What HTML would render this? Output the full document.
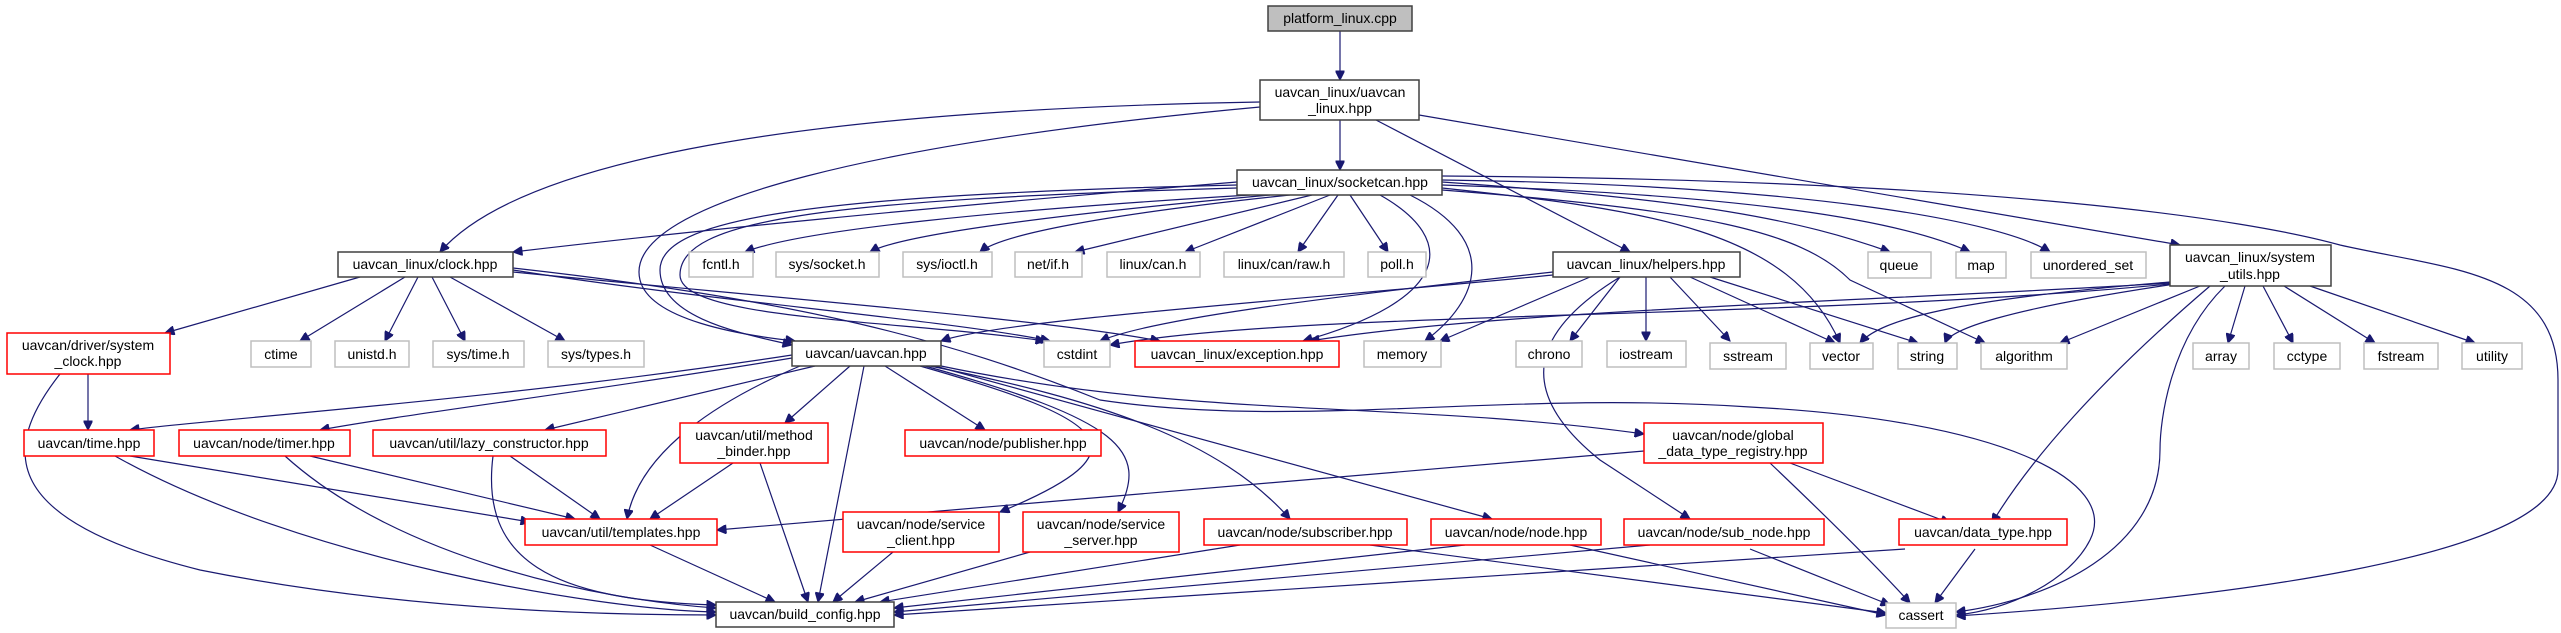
<!DOCTYPE html>
<html><head><meta charset="utf-8"><style>
html,body{margin:0;padding:0;background:#fff;}
svg{display:block;}
text{font-family:"Liberation Sans",sans-serif;font-size:14px;fill:#000;text-anchor:middle;}
.k{fill:#fff;stroke:#404040;stroke-width:1.5;}
.r{fill:#fff;stroke:#ff0000;stroke-width:1.5;}
.g{fill:#fff;stroke:#bfbfbf;stroke-width:1.5;}
path{fill:none;stroke:#191970;stroke-width:1.2;marker-end:url(#a);}
</style></head><body>
<svg width="2561" height="633" viewBox="0 0 2561 633" xmlns="http://www.w3.org/2000/svg">
<defs><marker id="a" viewBox="0 0 10 10" refX="10" refY="5" markerWidth="11" markerHeight="9" markerUnits="userSpaceOnUse" orient="auto"><path d="M0 0 L10 5 L0 10 z" style="fill:#191970;stroke:#191970;marker-end:none"/></marker></defs>
<g>
<path d="M1340 31 L1340 80"/>
<path d="M1340 120 L1340 170"/>
<path d="M1260 102 C800 110 520 160 440 252"/>
<path d="M1260 107 C900 140 620 200 640 280 C650 320 740 335 795 341"/>
<path d="M1376 120 L1630 252"/>
<path d="M1419 115 L2180 245"/>
<path d="M1237 182 C900 210 700 230 513 252"/>
<path d="M1250 195 C1000 210 800 230 745 252"/>
<path d="M1270 195 C1050 215 900 235 870 252"/>
<path d="M1290 195 C1100 215 1000 235 980 252"/>
<path d="M1312 195 L1075 252"/>
<path d="M1330 195 L1185 252"/>
<path d="M1338 195 L1298 252"/>
<path d="M1350 195 L1388 252"/>
<path d="M1380 195 C1460 240 1450 300 1303 341"/>
<path d="M1410 195 C1500 240 1480 300 1425 341"/>
<path d="M1237 185 C800 195 660 220 660 270 C660 320 750 335 792 345"/>
<path d="M1237 188 C820 200 680 220 680 275 C680 320 900 320 1045 341"/>
<path d="M513 270 C700 300 950 320 1050 341"/>
<path d="M513 272 C800 300 1050 320 1160 341"/>
<path d="M513 268 C800 300 950 340 1100 400 C1300 430 1500 390 1750 407 C2000 420 2120 480 2090 540 C2070 580 2010 610 1956 615"/>
<path d="M1442 182 C1700 200 1800 220 1890 252"/>
<path d="M1442 185 C1750 195 1900 220 1970 252"/>
<path d="M1442 180 C1800 185 2000 220 2050 252"/>
<path d="M1442 188 C1650 210 1790 230 1840 343"/>
<path d="M1442 190 C1700 210 1800 230 1850 280 L1985 343"/>
<path d="M1442 176 C2000 180 2250 220 2340 245 C2450 270 2558 270 2558 380 L2558 470 C2558 560 2200 600 1956 616"/>
<path d="M360 277 L165 333"/>
<path d="M405 277 L300 341"/>
<path d="M418 277 L385 341"/>
<path d="M432 277 L465 341"/>
<path d="M450 277 L565 341"/>
<path d="M1553 275 C1300 300 1000 320 941 341"/>
<path d="M1553 272 C1300 300 1150 320 1100 341"/>
<path d="M1590 277 L1440 341"/>
<path d="M1620 277 L1570 341"/>
<path d="M1646 277 L1646 341"/>
<path d="M1670 277 L1730 341"/>
<path d="M1690 277 L1835 343"/>
<path d="M1710 277 L1918 343"/>
<path d="M1620 277 C1550 320 1500 380 1600 460 L1690 519"/>
<path d="M2170 283 C1900 300 1500 310 1310 341"/>
<path d="M2170 282 C1950 300 1880 320 1860 343"/>
<path d="M2175 284 C2000 310 1950 330 1945 343"/>
<path d="M2200 286 L2060 343"/>
<path d="M2245 286 L2228 343"/>
<path d="M2263 286 L2293 343"/>
<path d="M2284 286 L2375 343"/>
<path d="M2310 286 L2475 343"/>
<path d="M2210 286 C2100 380 2030 460 1992 523"/>
<path d="M2225 286 C2170 340 2160 420 2160 450 C2160 550 2050 600 1956 612"/>
<path d="M2170 284 C1800 320 1300 310 1110 345"/>
<path d="M88 374 L88 430"/>
<path d="M60 374 C0 450 0 520 200 570 C400 610 600 615 716 615"/>
<path d="M792 355 C500 400 200 420 130 430"/>
<path d="M792 358 C600 390 400 415 320 430"/>
<path d="M815 366 L545 430"/>
<path d="M800 366 C720 400 640 450 627 519"/>
<path d="M850 366 L785 423"/>
<path d="M864 366 L818 602"/>
<path d="M885 366 L985 430"/>
<path d="M920 366 C1110 420 1150 450 1000 512"/>
<path d="M925 366 C1120 420 1150 450 1118 512"/>
<path d="M930 366 C1100 400 1220 440 1290 519"/>
<path d="M935 366 L1492 519"/>
<path d="M941 366 C1200 420 1400 400 1644 434"/>
<path d="M130 456 L530 522"/>
<path d="M115 456 C300 560 600 610 716 612"/>
<path d="M310 456 L575 519"/>
<path d="M285 456 C400 560 600 600 716 608"/>
<path d="M510 456 L600 519"/>
<path d="M493 456 C480 560 550 600 716 605"/>
<path d="M733 463 L650 519"/>
<path d="M760 463 L808 602"/>
<path d="M650 545 L775 602"/>
<path d="M1644 451 L717 530"/>
<path d="M1790 463 L1950 523"/>
<path d="M1770 463 C1830 520 1880 570 1910 603"/>
<path d="M893 552 L833 602"/>
<path d="M1030 552 L855 602"/>
<path d="M1240 545 L880 602"/>
<path d="M1370 545 L1886 613"/>
<path d="M1465 545 L894 608"/>
<path d="M1570 545 L1886 615"/>
<path d="M1650 545 L894 612"/>
<path d="M1750 549 L1890 605"/>
<path d="M1905 549 L894 615"/>
<path d="M1975 549 L1935 603"/>
</g>
<g>
<rect x="1268" y="6" width="144" height="25" style="fill:#bfbfbf;stroke:#404040;stroke-width:1.5"/><text x="1340" y="23">platform_linux.cpp</text>
<rect class="k" x="1260" y="80" width="159" height="40"/><text x="1340" y="97">uavcan_linux/uavcan</text><text x="1340" y="113">_linux.hpp</text>
<rect class="k" x="1237" y="170" width="205" height="25"/><text x="1340" y="187">uavcan_linux/socketcan.hpp</text>
<rect class="k" x="338" y="252" width="175" height="25"/><text x="425" y="269">uavcan_linux/clock.hpp</text>
<rect class="g" x="689" y="252" width="64" height="25"/><text x="721" y="269">fcntl.h</text>
<rect class="g" x="776" y="252" width="103" height="25"/><text x="827" y="269">sys/socket.h</text>
<rect class="g" x="903" y="252" width="89" height="25"/><text x="947" y="269">sys/ioctl.h</text>
<rect class="g" x="1015" y="252" width="67" height="25"/><text x="1048" y="269">net/if.h</text>
<rect class="g" x="1107" y="252" width="93" height="25"/><text x="1153" y="269">linux/can.h</text>
<rect class="g" x="1224" y="252" width="120" height="25"/><text x="1284" y="269">linux/can/raw.h</text>
<rect class="g" x="1368" y="252" width="58" height="25"/><text x="1397" y="269">poll.h</text>
<rect class="k" x="1553" y="252" width="187" height="25"/><text x="1646" y="269">uavcan_linux/helpers.hpp</text>
<rect class="g" x="1868" y="252" width="63" height="26"/><text x="1899" y="270">queue</text>
<rect class="g" x="1956" y="252" width="50" height="26"/><text x="1981" y="270">map</text>
<rect class="g" x="2031" y="252" width="115" height="26"/><text x="2088" y="270">unordered_set</text>
<rect class="k" x="2170" y="245" width="161" height="41"/><text x="2250" y="262">uavcan_linux/system</text><text x="2250" y="279">_utils.hpp</text>
<rect class="r" x="7" y="333" width="163" height="41"/><text x="88" y="350">uavcan/driver/system</text><text x="88" y="366">_clock.hpp</text>
<rect class="g" x="251" y="341" width="60" height="26"/><text x="281" y="359">ctime</text>
<rect class="g" x="335" y="341" width="74" height="26"/><text x="372" y="359">unistd.h</text>
<rect class="g" x="433" y="341" width="91" height="26"/><text x="478" y="359">sys/time.h</text>
<rect class="g" x="548" y="341" width="96" height="26"/><text x="596" y="359">sys/types.h</text>
<rect class="k" x="792" y="341" width="149" height="25"/><text x="866" y="358">uavcan/uavcan.hpp</text>
<rect class="g" x="1044" y="341" width="66" height="26"/><text x="1077" y="359">cstdint</text>
<rect class="r" x="1135" y="341" width="204" height="26"/><text x="1237" y="359">uavcan_linux/exception.hpp</text>
<rect class="g" x="1364" y="341" width="77" height="26"/><text x="1402" y="359">memory</text>
<rect class="g" x="1516" y="341" width="66" height="26"/><text x="1549" y="359">chrono</text>
<rect class="g" x="1607" y="341" width="79" height="26"/><text x="1646" y="359">iostream</text>
<rect class="g" x="1710" y="343" width="76" height="26"/><text x="1748" y="361">sstream</text>
<rect class="g" x="1810" y="343" width="63" height="26"/><text x="1841" y="361">vector</text>
<rect class="g" x="1898" y="343" width="59" height="26"/><text x="1927" y="361">string</text>
<rect class="g" x="1981" y="343" width="86" height="26"/><text x="2024" y="361">algorithm</text>
<rect class="g" x="2193" y="343" width="56" height="26"/><text x="2221" y="361">array</text>
<rect class="g" x="2274" y="343" width="66" height="26"/><text x="2307" y="361">cctype</text>
<rect class="g" x="2364" y="343" width="74" height="26"/><text x="2401" y="361">fstream</text>
<rect class="g" x="2462" y="343" width="60" height="26"/><text x="2492" y="361">utility</text>
<rect class="r" x="24" y="430" width="130" height="26"/><text x="89" y="448">uavcan/time.hpp</text>
<rect class="r" x="179" y="430" width="171" height="26"/><text x="264" y="448">uavcan/node/timer.hpp</text>
<rect class="r" x="373" y="430" width="233" height="26"/><text x="489" y="448">uavcan/util/lazy_constructor.hpp</text>
<rect class="r" x="680" y="423" width="148" height="40"/><text x="754" y="440">uavcan/util/method</text><text x="754" y="456">_binder.hpp</text>
<rect class="r" x="905" y="430" width="196" height="26"/><text x="1003" y="448">uavcan/node/publisher.hpp</text>
<rect class="r" x="1644" y="423" width="179" height="40"/><text x="1733" y="440">uavcan/node/global</text><text x="1733" y="456">_data_type_registry.hpp</text>
<rect class="r" x="525" y="519" width="192" height="26"/><text x="621" y="537">uavcan/util/templates.hpp</text>
<rect class="r" x="843" y="512" width="156" height="40"/><text x="921" y="529">uavcan/node/service</text><text x="921" y="545">_client.hpp</text>
<rect class="r" x="1023" y="512" width="156" height="40"/><text x="1101" y="529">uavcan/node/service</text><text x="1101" y="545">_server.hpp</text>
<rect class="r" x="1204" y="519" width="203" height="26"/><text x="1305" y="537">uavcan/node/subscriber.hpp</text>
<rect class="r" x="1431" y="519" width="170" height="26"/><text x="1516" y="537">uavcan/node/node.hpp</text>
<rect class="r" x="1624" y="519" width="200" height="26"/><text x="1724" y="537">uavcan/node/sub_node.hpp</text>
<rect class="r" x="1899" y="519" width="168" height="26"/><text x="1983" y="537">uavcan/data_type.hpp</text>
<rect class="k" x="716" y="602" width="178" height="25"/><text x="805" y="619">uavcan/build_config.hpp</text>
<rect class="g" x="1886" y="603" width="70" height="25"/><text x="1921" y="620">cassert</text>
</g>
</svg>
</body></html>
